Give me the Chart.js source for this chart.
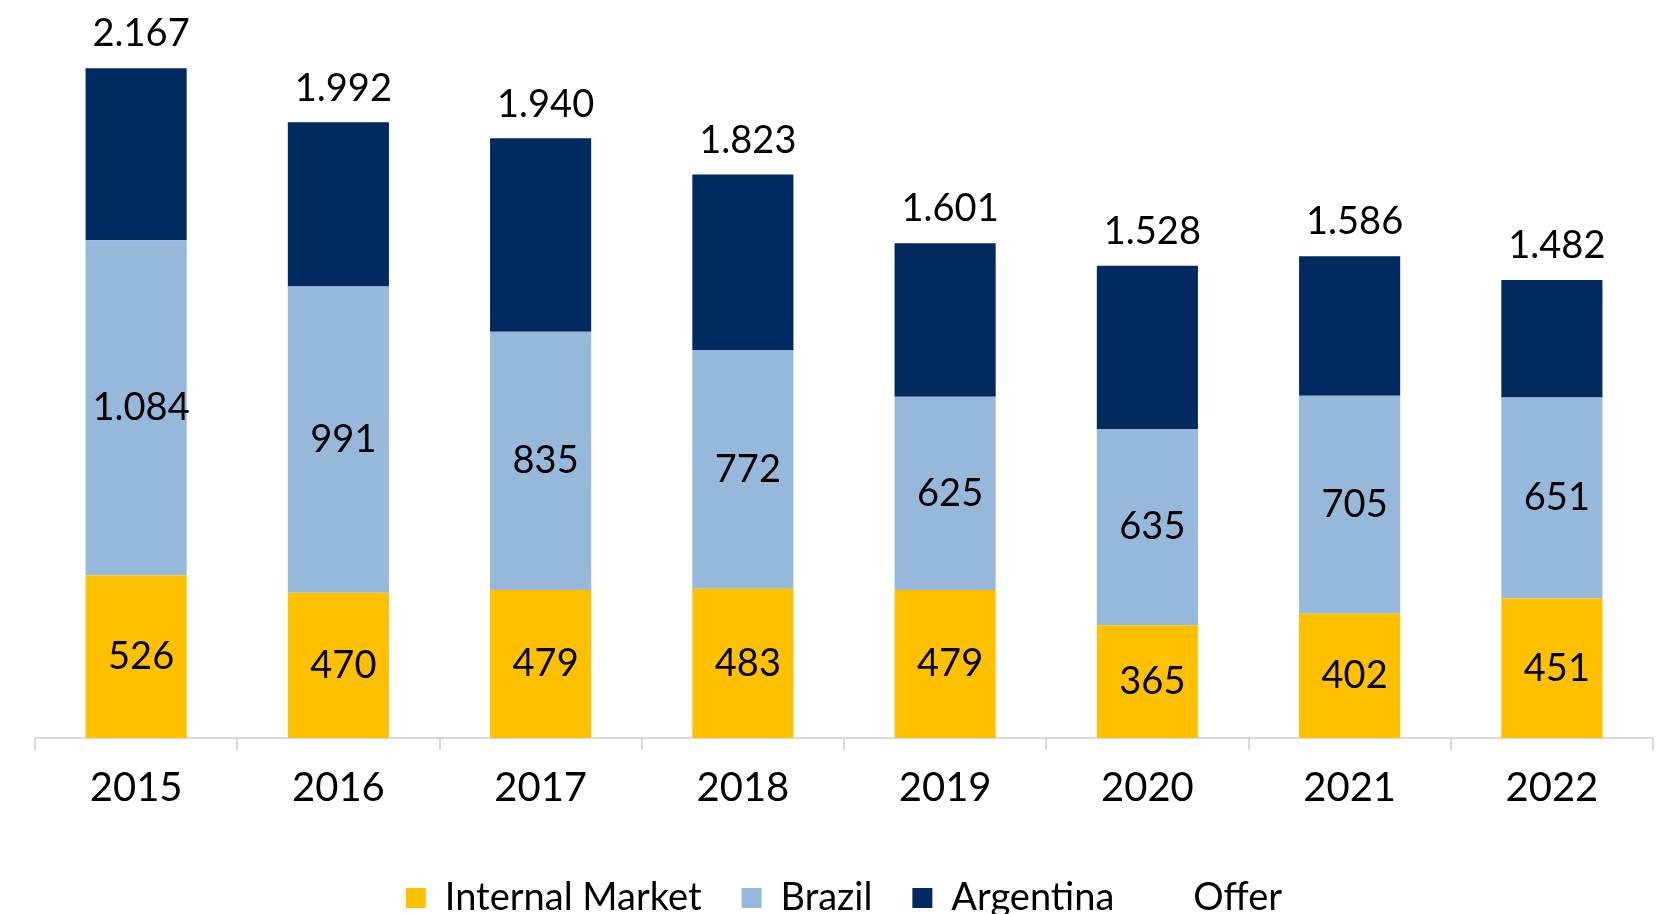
<!DOCTYPE html>
<html>
<head>
<meta charset="utf-8">
<script src="https://cdn.jsdelivr.net/npm/chart.js@4/dist/chart.umd.min.js"></script>
<style>
	html, body { margin: 0; padding: 0; background: #fff; overflow: hidden; }
	#wrap { width: 1664px; height: 927px; }
</style>
</head>
<body>
<div id="wrap"><canvas id="myChart"></canvas></div>
<script>
const years = ['2015', '2016', '2017', '2018', '2019', '2020', '2021', '2022'];
const internalMarket = [526, 470, 479, 483, 479, 365, 402, 451];
const brazil = [1084, 991, 835, 772, 625, 635, 705, 651];
const argentina = [557, 531, 626, 568, 497, 528, 452, 380];
const offer = [2167, 1992, 1940, 1823, 1601, 1528, 1586, 1482];

// numbers use a dot as thousands separator
function fmt(v) {
	var s = String(v);
	if (s.length > 3) {
		s = s.slice(0, s.length - 3) + '.' + s.slice(s.length - 3);
	}
	return s;
}

const labelPlugin = {
	id: 'valueLabels',
	afterDatasetsDraw(chart) {
		var ctx = chart.ctx;
		ctx.save();
		ctx.fillStyle = '#000';
		ctx.textAlign = 'center';
		ctx.textBaseline = 'middle';
		ctx.font = '38px Lato';
		//labels inside the yellow and light blue parts
		[0, 1].forEach(function(di) {
			var meta = chart.getDatasetMeta(di);
			meta.data.forEach(function(bar, i) {
				ctx.fillText(fmt(chart.data.datasets[di].data[i]), bar.x + 5, (bar.y + bar.base) / 2);
			});
		});
		//offer totals above the top of each stack
		var top = chart.getDatasetMeta(2);
		top.data.forEach(function(bar, i) {
			ctx.fillText(fmt(offer[i]), bar.x + 5, bar.y - 34);
		});
		ctx.restore();
	}
};

var ctx = document.getElementById('myChart').getContext('2d');
var chart = new Chart(ctx, {
	type: 'bar',
	data: {
		labels: years,
		datasets: [{
			label: 'Internal Market',
			data: internalMarket,
			backgroundColor: '#FFC000',
			categoryPercentage: 1,
			barPercentage: 0.5
		}, {
			label: 'Brazil',
			data: brazil,
			backgroundColor: '#95B8DB',
			categoryPercentage: 1,
			barPercentage: 0.5
		}, {
			label: 'Argentina',
			data: argentina,
			backgroundColor: '#002A60',
			categoryPercentage: 1,
			barPercentage: 0.5
		}, {
			type: 'line',
			label: 'Offer',
			data: offer,
			showLine: false,
			pointRadius: 0,
			borderColor: 'rgba(0,0,0,0)',
			backgroundColor: 'rgba(0,0,0,0)'
		}]
	},
	options: {
		responsive: true,
		maintainAspectRatio: false,
		animation: false,
		layout: {
			padding: { left: 35, right: 11, top: 58, bottom: 0 }
		},
		plugins: {
			tooltip: { enabled: false },
			legend: {
				position: 'bottom',
				labels: {
					color: '#000',
					font: { family: 'Lato', size: 38 },
					boxWidth: 20,
					boxHeight: 20,
					padding: 40
				}
			}
		},
		scales: {
			x: {
				stacked: true,
				grid: {
					drawOnChartArea: false,
					drawTicks: true,
					tickLength: 12,
					color: '#d9d9d9',
					lineWidth: 2
				},
				border: { color: '#d9d9d9', width: 2 },
				ticks: {
					color: '#000',
					font: { family: 'Lato', size: 40 },
					padding: 14
				},
				afterFit(scale) {
					scale.height += 13;
				}
			},
			y: {
				stacked: true,
				display: false,
				min: 0,
				max: 2200
			}
		}
	},
	plugins: [labelPlugin]
});
</script>
</body>
</html>
